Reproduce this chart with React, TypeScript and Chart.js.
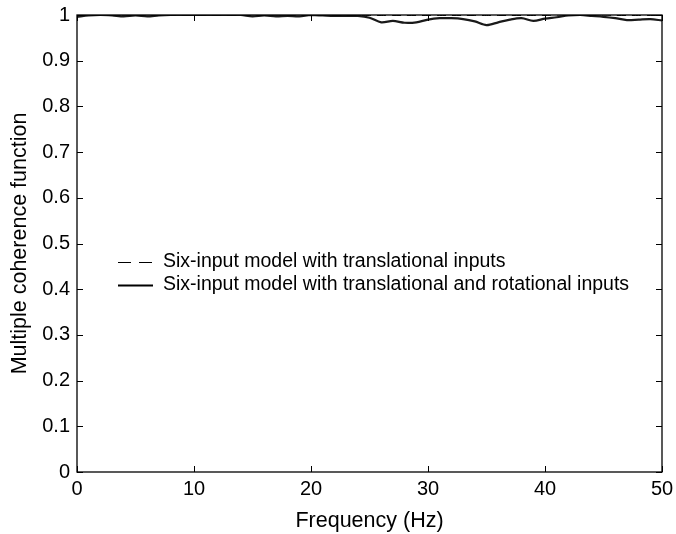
import React, { useEffect, useRef } from "react";
import { Chart, registerables } from "chart.js";

Chart.register(...registerables);

const frequencies = [
  0, 1, 2, 3, 4, 5, 6, 7, 8, 9, 10, 11, 12, 13, 14, 15, 16, 17, 18, 19, 20,
  21, 22, 23, 24, 25, 26, 27, 28, 29, 30, 31, 32, 33, 34, 35, 36, 37, 38, 39,
  40, 41, 42, 43, 44, 45, 46, 47, 48, 49, 50,
];

const translationalOnly = [
  0.999, 1.0, 1.0, 1.0, 1.0, 1.0, 1.0, 1.0, 1.0, 1.0, 1.0, 1.0, 1.0, 1.0,
  1.0, 1.0, 1.0, 1.0, 1.0, 1.0, 1.0, 1.0, 1.0, 1.0, 1.0, 0.999, 0.999, 0.999,
  0.999, 0.999, 0.999, 0.999, 0.999, 0.999, 0.999, 0.999, 0.999, 0.999, 0.999,
  0.999, 0.999, 1.0, 1.0, 1.0, 1.0, 1.0, 0.999, 0.999, 0.999, 0.999, 0.999,
];

const translationalRotational = [
  0.996, 0.999, 1.0, 0.999, 0.997, 0.999, 0.997, 0.999, 1.0, 1.0, 1.0, 1.0,
  1.0, 1.0, 1.0, 0.997, 0.999, 0.997, 0.998, 0.997, 1.0, 0.999, 0.998, 0.998,
  0.998, 0.994, 0.984, 0.987, 0.983, 0.984, 0.99, 0.993, 0.993, 0.991, 0.986,
  0.978, 0.984, 0.99, 0.993, 0.987, 0.992, 0.995, 0.999, 1.0, 0.998, 0.996,
  0.993, 0.989, 0.99, 0.991, 0.988,
];

const seriesLabels = [
  "Six-input model with translational inputs",
  "Six-input model with translational and rotational inputs",
];

const xTitle = "Frequency (Hz)";
const yTitle = "Multiple coherence function";

const FONT = "'Liberation Sans', Arial, Helvetica, sans-serif";

const boxPlugin = {
  id: "matlabBox",
  afterDraw(chart: any) {
    const { ctx, chartArea, scales } = chart;
    const { left, right, top, bottom } = chartArea;
    ctx.save();
    ctx.strokeStyle = "#000";
    ctx.lineWidth = 1.3;
    ctx.strokeRect(left, top, right - left, bottom - top);
    const tl = 6;
    ctx.lineWidth = 1;
    ctx.beginPath();
    scales.x.ticks.forEach((t: any) => {
      const px = Math.round(scales.x.getPixelForValue(t.value)) + 0.5;
      ctx.moveTo(px, bottom);
      ctx.lineTo(px, bottom - tl);
      ctx.moveTo(px, top);
      ctx.lineTo(px, top + tl);
    });
    scales.y.ticks.forEach((t: any) => {
      const py = Math.round(scales.y.getPixelForValue(t.value)) + 0.5;
      ctx.moveTo(left, py);
      ctx.lineTo(left + tl, py);
      ctx.moveTo(right, py);
      ctx.lineTo(right - tl, py);
    });
    ctx.stroke();

    // legend
    const lx0 = left + 41;
    const lx1 = left + 76;
    const tx = left + 86;
    const rows = [262, 285];
    ctx.font = `19.5px ${FONT}`;
    ctx.fillStyle = "#000";
    ctx.textBaseline = "middle";
    chart.data.datasets.forEach((ds: any, i: number) => {
      const y = rows[i] + 0.5;
      ctx.beginPath();
      ctx.lineWidth = ds.borderWidth;
      ctx.setLineDash(i === 0 ? [13, 8] : []);
      ctx.moveTo(lx0, y);
      ctx.lineTo(lx1, y);
      ctx.stroke();
      ctx.setLineDash([]);
      ctx.fillText(ds.label, tx, rows[i]);
    });
    ctx.restore();
  },
};

export default function App() {
  const ref = useRef<HTMLCanvasElement>(null);
  useEffect(() => {
    document.body.style.margin = "0";
    const chart = new Chart(ref.current!, {
      type: "line",
      data: {
        datasets: [
          {
            label: seriesLabels[0],
            data: frequencies.map((f, i) => ({ x: f, y: translationalOnly[i] })),
            borderColor: "#000",
            borderWidth: 1,
            borderDash: [9, 6],
            pointRadius: 0,
            tension: 0.3,
            fill: false,
          },
          {
            label: seriesLabels[1],
            data: frequencies.map((f, i) => ({ x: f, y: translationalRotational[i] })),
            borderColor: "#1a1a1a",
            borderWidth: 2.2,
            pointRadius: 0,
            tension: 0.3,
            fill: false,
          },
        ],
      },
      options: {
        animation: false,
        responsive: false,
        maintainAspectRatio: false,
        layout: { padding: { left: 0, right: 14, top: 15, bottom: 0 } },
        plugins: {
          legend: { display: false },
          tooltip: { enabled: false },
        },
        scales: {
          x: {
            type: "linear",
            min: 0,
            max: 50,
            border: { display: false },
            grid: { display: false, drawTicks: false },
            ticks: {
              stepSize: 10,
              color: "#000",
              font: { family: FONT, size: 20 },
              padding: 5,
              maxRotation: 0,
            },
            title: {
              display: true,
              text: xTitle,
              color: "#000",
              font: { family: FONT, size: 21.5 },
              padding: { top: 0, bottom: 0 },
            },
            afterFit(scale: any) {
              scale.height = 62;
              scale.paddingLeft = 0;
              scale.paddingRight = 0;
            },
          },
          y: {
            type: "linear",
            min: 0,
            max: 1,
            border: { display: false },
            grid: { display: false, drawTicks: false },
            ticks: {
              stepSize: 0.1,
              color: "#000",
              font: { family: FONT, size: 20 },
              padding: 7,
              callback: (v: any) => {
                const n = Number(v);
                if (Math.abs(n) < 1e-9) return "0";
                if (Math.abs(n - 1) < 1e-9) return "1";
                return n.toFixed(1);
              },
            },
            title: {
              display: true,
              text: yTitle,
              color: "#000",
              font: { family: FONT, size: 21.5 },
              padding: { top: 7, bottom: 0 },
            },
            afterFit(scale: any) {
              scale.width = 77;
              scale.paddingTop = 0;
              scale.paddingBottom = 0;
            },
          },
        },
      },
      plugins: [boxPlugin],
    });
    return () => chart.destroy();
  }, []);
  return (
    <div style={{ position: "absolute", left: 0, top: 0, width: 676, height: 534, background: "#fff" }}>
      <canvas ref={ref} width={676} height={534} style={{ width: 676, height: 534 }} />
    </div>
  );
}
